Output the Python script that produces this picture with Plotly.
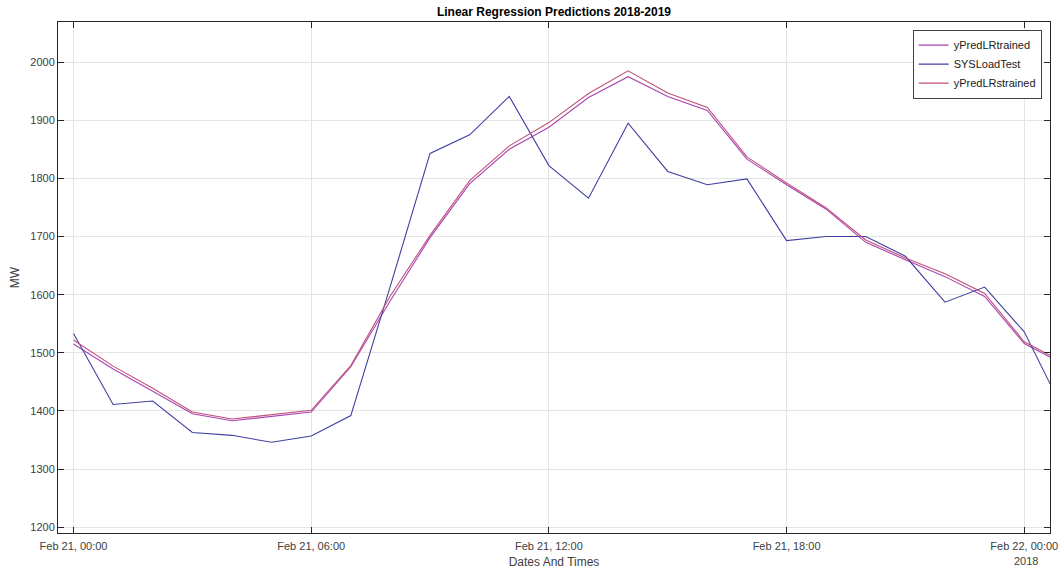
import pandas as pd
import plotly.graph_objects as go

# Hourly timestamps, Feb 21 2018 00:00 through Feb 22 01:00
times = pd.date_range("2018-02-21 00:00", periods=26, freq="h")

sys_load_test = [1533, 1411, 1417, 1363, 1358, 1346, 1357, 1392, 1615, 1843,
                 1875, 1941, 1822, 1766, 1895, 1812, 1789, 1799, 1693, 1700,
                 1700, 1666, 1587, 1613, 1536, 1399]

y_pred_lr_trained = [1515, 1472, 1434, 1395, 1383, 1391, 1398, 1476, 1590, 1698,
                     1791, 1850, 1888, 1939, 1975, 1941, 1917, 1833, 1789, 1747,
                     1690, 1660, 1631, 1597, 1516, 1480]

y_pred_lrs_trained = [1522, 1477, 1439, 1398, 1386, 1394, 1401, 1478, 1598, 1702,
                      1796, 1856, 1896, 1946, 1985, 1947, 1922, 1837, 1792, 1749,
                      1694, 1663, 1636, 1602, 1519, 1483]

tick_times = ["2018-02-21 00:00", "2018-02-21 06:00", "2018-02-21 12:00",
              "2018-02-21 18:00", "2018-02-22 00:00"]
tick_labels = ["Feb 21, 00:00", "Feb 21, 06:00", "Feb 21, 12:00",
               "Feb 21, 18:00", "Feb 22, 00:00"]
y_ticks = [1200, 1300, 1400, 1500, 1600, 1700, 1800, 1900, 2000]

font_family = "Liberation Sans, Arial, sans-serif"
axis_color = "#262626"
text_color = "#404040"

fig = go.Figure()
fig.add_trace(go.Scatter(x=times, y=y_pred_lr_trained, mode="lines",
                         name="yPredLRtrained",
                         line=dict(color="#a844b4", width=1.1)))
fig.add_trace(go.Scatter(x=times, y=sys_load_test, mode="lines",
                         name="SYSLoadTest",
                         line=dict(color="#4040a0", width=1.1)))
fig.add_trace(go.Scatter(x=times, y=y_pred_lrs_trained, mode="lines",
                         name="yPredLRstrained",
                         line=dict(color="#c05078", width=1.1)))

fig.update_layout(
    width=1061, height=572,
    margin=dict(l=58, r=11, t=22, b=39, autoexpand=False),
    paper_bgcolor="white", plot_bgcolor="white",
    font=dict(family=font_family, size=11, color=text_color),
    title=dict(text="<b>Linear Regression Predictions 2018-2019</b>",
               x=0.5, xref="paper", xanchor="center",
               y=1 - 12 / 572, yanchor="middle",
               font=dict(size=12, color="#000000")),
    showlegend=True,
    legend=dict(x=0.9916, y=0.985, xanchor="right", yanchor="top",
                bgcolor="white", bordercolor="#404040", borderwidth=1,
                font=dict(size=11, color="#202020"),
                tracegroupgap=0, itemwidth=30),
)

fig.update_xaxes(
    type="date",
    automargin=False,
    range=["2018-02-20 23:36:30", "2018-02-22 00:39:00"],
    tickvals=tick_times, ticktext=tick_labels,
    ticks="inside", ticklen=6, tickcolor=axis_color,
    ticklabelstandoff=3,
    showline=True, linecolor=axis_color, linewidth=1, mirror="ticks",
    showgrid=True, gridcolor="#e4e4e4", gridwidth=1,
    zeroline=False,
    tickfont=dict(size=11, color=text_color),
    title=dict(text="Dates And Times", standoff=6,
               font=dict(size=12, color=text_color)),
)
fig.update_yaxes(
    automargin=False,
    range=[1190, 2069],
    tickvals=y_ticks,
    ticks="inside", ticklen=6, tickcolor=axis_color,
    showline=True, linecolor=axis_color, linewidth=1, mirror="ticks",
    showgrid=True, gridcolor="#e4e4e4", gridwidth=1,
    zeroline=False,
    tickfont=dict(size=11, color=text_color),
    title=dict(text="MW", standoff=8, font=dict(size=12, color=text_color)),
)

# Year label beneath the last date tick
fig.add_annotation(text="2018", xref="paper", yref="paper",
                   x=(1040 - 58) / 992, y=-(561 - 533) / 511,
                   xanchor="right", yanchor="middle", showarrow=False,
                   font=dict(size=11, color=text_color))

fig.write_html("out.html")
